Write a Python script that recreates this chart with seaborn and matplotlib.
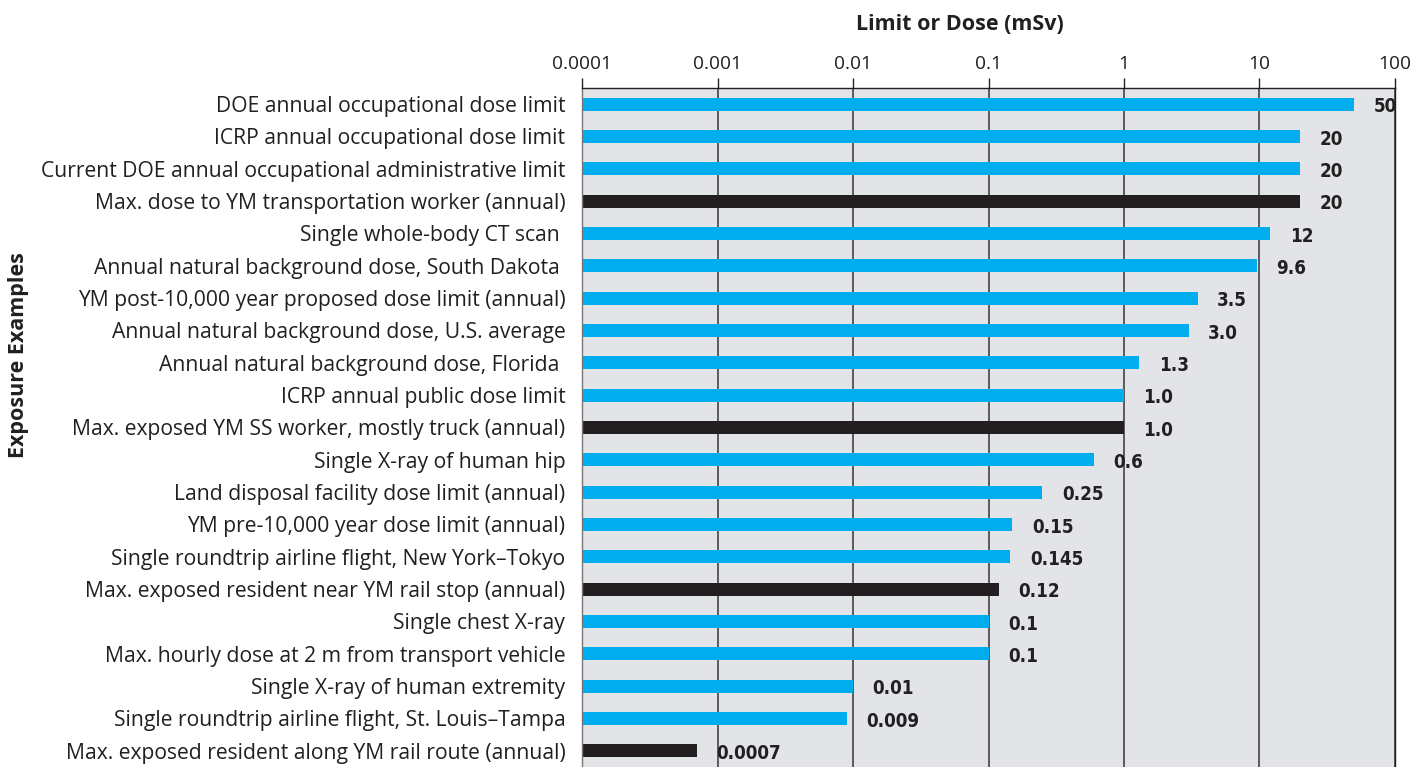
import matplotlib
matplotlib.use("Agg")
import matplotlib.pyplot as plt
import seaborn as sns
import pandas as pd
from matplotlib.ticker import FixedLocator, FixedFormatter, NullLocator

examples = [
    "DOE annual occupational dose limit",
    "ICRP annual occupational dose limit",
    "Current DOE annual occupational administrative limit",
    "Max. dose to YM transportation worker (annual)",
    "Single whole-body CT scan ",
    "Annual natural background dose, South Dakota ",
    "YM post-10,000 year proposed dose limit (annual)",
    "Annual natural background dose, U.S. average",
    "Annual natural background dose, Florida ",
    "ICRP annual public dose limit",
    "Max. exposed YM SS worker, mostly truck (annual)",
    "Single X-ray of human hip",
    "Land disposal facility dose limit (annual)",
    "YM pre-10,000 year dose limit (annual)",
    "Single roundtrip airline flight, New York\u2013Tokyo",
    "Max. exposed resident near YM rail stop (annual)",
    "Single chest X-ray",
    "Max. hourly dose at 2 m from transport vehicle",
    "Single X-ray of human extremity",
    "Single roundtrip airline flight, St. Louis\u2013Tampa",
    "Max. exposed resident along YM rail route (annual)",
]
doses = [50, 20, 20, 20, 12, 9.6, 3.5, 3.0, 1.3, 1.0, 1.0, 0.6, 0.25, 0.15,
         0.145, 0.12, 0.1, 0.1, 0.01, 0.009, 0.0007]
dose_labels = ["50", "20", "20", "20", "12", "9.6", "3.5", "3.0", "1.3", "1.0",
               "1.0", "0.6", "0.25", "0.15", "0.145", "0.12", "0.1", "0.1",
               "0.01", "0.009", "0.0007"]
kind = ["reference", "reference", "reference", "YM", "reference", "reference",
        "reference", "reference", "reference", "reference", "YM", "reference",
        "reference", "reference", "reference", "YM", "reference", "reference",
        "reference", "reference", "YM"]
tick_values = [0.0001, 0.001, 0.01, 0.1, 1, 10, 100]
tick_labels = ["0.0001", "0.001", "0.01", "0.1", "1", "10", "100"]

df = pd.DataFrame({"Example": examples, "Dose": doses, "Kind": kind})

sns.set_style("white")
plt.rcParams["font.family"] = ["Open Sans", "DejaVu Sans"]

fig = plt.figure(figsize=(14.22, 7.67), dpi=100)
ax = fig.add_axes([0.4093, 0.0, 0.5717, 0.8853])
ax.set_facecolor("#e3e4e8")

sns.barplot(data=df, x="Dose", y="Example", hue="Kind", orient="h",
            palette={"reference": "#00aeef", "YM": "#231f20"}, saturation=1,
            dodge=False, width=0.4, legend=False, ax=ax, linewidth=0)

# bars drawn from zero, then switch to log axis (nonpositive values are clipped)
ax.set_xscale("log")
ax.set_xlim(0.0001, 100)
ax.set_ylim(len(examples) - 0.5, -0.5)

ax.xaxis.set_major_locator(FixedLocator(tick_values))
ax.xaxis.set_major_formatter(FixedFormatter(tick_labels))
ax.xaxis.set_minor_locator(NullLocator())
ax.xaxis.tick_top()
ax.xaxis.set_label_position("top")
ax.tick_params(axis="x", direction="out", length=7, width=1.0,
               color="#231f20", labelsize=13.8, pad=4, colors="#231f20")
ax.tick_params(axis="y", length=0, labelsize=15.2, pad=12, colors="#231f20")
ax.grid(axis="x", color="#444444", linewidth=1.2)
ax.set_axisbelow(True)

for side in ["top", "right", "left"]:
    ax.spines[side].set_visible(True)
    ax.spines[side].set_color("#231f20")
    ax.spines[side].set_linewidth(1.0)
ax.spines["left"].set_color("#777777")
ax.spines["bottom"].set_visible(False)

for i, (v, lab) in enumerate(zip(doses, dose_labels)):
    ax.annotate(lab, xy=(v, i), xytext=(14, -2), textcoords="offset points",
                va="center", ha="left", fontsize=13.5, fontweight="bold",
                fontstretch="condensed", color="#231f20",
                family=["DejaVu Sans", "Roboto"])

ax.set_xlabel("Limit or Dose (mSv)", fontsize=15.5, fontweight="bold",
              color="#231f20")
ax.xaxis.set_label_coords(0.465, 1.085)
ax.set_ylabel("Exposure Examples", fontsize=15.5, fontweight="bold",
              color="#231f20")
ax.yaxis.set_label_coords(-0.68, 0.607)

fig.savefig("out.png", dpi=100)
